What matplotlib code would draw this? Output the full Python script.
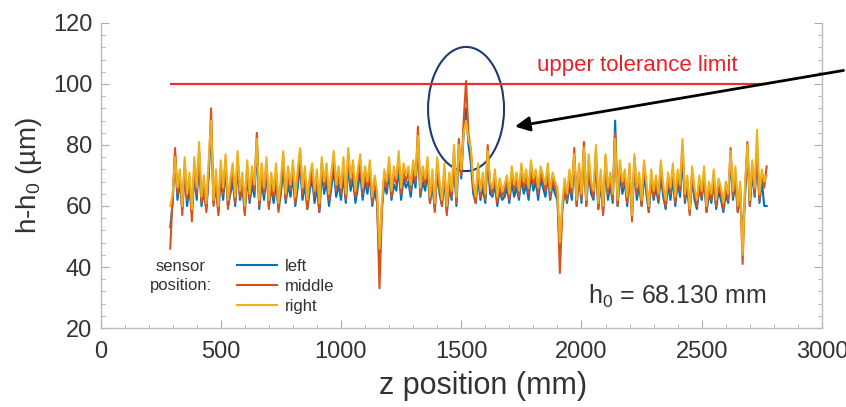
import numpy as np
import matplotlib.pyplot as plt
from matplotlib.patches import Ellipse

plt.rcParams['font.family'] = ['Liberation Sans', 'DejaVu Sans']
plt.rcParams['mathtext.default'] = 'regular'

# z positions (mm), 10 mm steps
z = np.arange(290, 2771, 10)

# sensor readings h-h0 (um), one row per 100 mm
left = [53, 61, 77, 62, 68, 59, 71, 60, 66, 58,
        70, 62, 75, 60, 65, 59, 70, 86, 61, 66,
        58, 69, 62, 72, 60, 64, 68, 60, 73, 62,
        66, 58, 70, 61, 67, 63, 80, 59, 68, 62,
        71, 60, 66, 61, 68, 59, 64, 73, 61, 67,
        63, 70, 60, 66, 74, 62, 67, 59, 65, 69,
        61, 66, 58, 71, 64, 68, 60, 66, 72, 63,
        67, 62, 70, 61, 73, 65, 69, 61, 66, 71,
        62, 68, 64, 70, 60, 65, 61, 40, 60, 67,
        64, 71, 62, 67, 65, 72, 62, 69, 66, 68,
        63, 70, 66, 80, 63, 68, 65, 71, 61, 67,
        59, 71, 64, 60, 69, 58, 66, 62, 75, 60,
        78, 69, 84, 92, 80, 74, 64, 61, 69, 62,
        66, 61, 76, 64, 63, 67, 60, 65, 62, 63,
        66, 61, 68, 63, 66, 62, 69, 64, 67, 62,
        70, 65, 68, 62, 69, 66, 63, 70, 62, 67,
        64, 62, 45, 59, 65, 61, 67, 62, 76, 60,
        70, 61, 78, 60, 72, 64, 62, 75, 59, 68,
        58, 73, 62, 67, 61, 88, 60, 70, 64, 68,
        60, 70, 57, 73, 62, 67, 60, 70, 64, 58,
        68, 62, 66, 61, 70, 63, 59, 67, 62, 69,
        60, 68, 63, 76, 61, 66, 58, 69, 62, 59,
        66, 62, 69, 58, 64, 61, 68, 59, 65, 62,
        58, 64, 61, 76, 62, 68, 58, 64, 50, 63,
        78, 60, 71, 63, 76, 61, 68, 60, 60]
middle = [46, 63, 79, 64, 70, 57, 74, 62, 68, 55,
          73, 64, 78, 61, 67, 58, 72, 92, 60, 69,
          57, 72, 64, 75, 59, 66, 71, 61, 76, 63,
          68, 57, 73, 62, 70, 65, 84, 60, 71, 64,
          74, 59, 68, 63, 71, 58, 66, 76, 62, 70,
          65, 73, 61, 69, 78, 64, 70, 59, 67, 72,
          63, 69, 58, 74, 66, 71, 62, 68, 76, 65,
          70, 64, 73, 62, 77, 67, 72, 63, 69, 75,
          64, 71, 66, 73, 61, 68, 63, 33, 58, 70,
          66, 74, 63, 70, 67, 76, 64, 72, 68, 71,
          65, 73, 68, 86, 64, 71, 67, 74, 61, 70,
          58, 74, 66, 60, 72, 57, 69, 63, 78, 61,
          82, 70, 88, 101, 84, 78, 66, 61, 72, 63,
          69, 62, 80, 66, 64, 70, 61, 67, 63, 65,
          68, 62, 71, 65, 69, 63, 72, 66, 70, 64,
          73, 67, 70, 64, 71, 68, 65, 72, 63, 69,
          66, 64, 38, 58, 67, 62, 70, 64, 79, 60,
          72, 62, 81, 60, 75, 66, 63, 78, 59, 70,
          57, 76, 64, 69, 62, 84, 60, 73, 66, 70,
          61, 72, 55, 76, 64, 69, 60, 73, 66, 58,
          70, 63, 68, 62, 73, 65, 60, 69, 64, 72,
          61, 70, 65, 80, 62, 68, 57, 71, 64, 60,
          68, 63, 71, 58, 66, 62, 70, 60, 67, 64,
          59, 66, 62, 79, 63, 71, 58, 66, 41, 65,
          81, 60, 73, 64, 78, 62, 70, 66, 73]
right = [60, 64, 76, 66, 72, 60, 76, 64, 71, 59,
         76, 66, 81, 63, 70, 61, 75, 88, 62, 72,
         60, 75, 66, 77, 62, 69, 74, 63, 78, 65,
         71, 60, 75, 64, 73, 67, 82, 62, 74, 66,
         76, 62, 71, 65, 74, 61, 69, 78, 64, 73,
         67, 75, 63, 72, 79, 66, 73, 62, 70, 74,
         65, 72, 61, 76, 68, 74, 64, 71, 78, 67,
         73, 66, 76, 64, 79, 69, 75, 65, 72, 77,
         66, 73, 68, 75, 63, 70, 65, 46, 61, 72,
         68, 76, 65, 73, 69, 78, 66, 74, 70, 73,
         67, 75, 70, 83, 66, 73, 69, 76, 63, 72,
         61, 76, 68, 62, 74, 60, 71, 65, 80, 63,
         80, 72, 84, 88, 82, 79, 68, 63, 74, 65,
         71, 64, 78, 68, 66, 72, 63, 69, 65, 67,
         70, 64, 73, 67, 71, 65, 74, 68, 72, 66,
         75, 69, 72, 66, 73, 70, 67, 74, 65, 71,
         68, 66, 48, 61, 69, 64, 72, 66, 77, 62,
         74, 64, 79, 62, 77, 68, 65, 80, 61, 72,
         60, 77, 66, 71, 64, 82, 62, 75, 68, 72,
         63, 74, 57, 77, 66, 71, 62, 75, 68, 60,
         72, 65, 70, 64, 75, 67, 62, 71, 66, 74,
         63, 72, 67, 82, 64, 70, 59, 73, 66, 62,
         70, 65, 73, 60, 68, 64, 72, 62, 69, 66,
         61, 68, 64, 78, 65, 73, 60, 68, 44, 67,
         80, 62, 75, 66, 85, 64, 72, 68, 70]

limit = 100
h0_text = 'h$_0$ = 68.130 mm'

fig = plt.figure(figsize=(8.46, 4.07), dpi=100)
ax = fig.add_axes([0.1188, 0.1941, 0.8528, 0.7494])

l1, = ax.plot(z, left, color='#0072BD', lw=1.5, label='left')
l2, = ax.plot(z, middle, color='#D95319', lw=1.5, label='middle')
l3, = ax.plot(z, right, color='#EDB120', lw=1.5, label='right')

ax.hlines(limit, z[0], z[-1], color='#E8303A', lw=1.6)
ax.text(2232, 106, 'upper tolerance limit', color='#E8202A', fontsize=16,
        ha='center', va='center')

ax.add_patch(Ellipse((1520, 91.8), 316, 40.7, fill=False, edgecolor='#1C3C6E', lw=1.5))
ax.annotate('', xy=(1712, 85.9), xytext=(3101, 104.6), annotation_clip=False,
            arrowprops=dict(arrowstyle='-|>', color='black', lw=2, mutation_scale=22))

ax.text(2399, 30.2, h0_text, fontsize=18, color='#333333', ha='center', va='center')

ax.text(335, 37.0, 'sensor\nposition:', fontsize=12, color='#333333', ha='center',
        va='center', linespacing=1.35)
ax.legend(handles=[l1, l2, l3], loc='upper left', bbox_to_anchor=(0.189, 0.226),
          frameon=False, fontsize=12, handlelength=2.4, handletextpad=0.5,
          labelspacing=0.3, borderpad=0, borderaxespad=0, labelcolor='#333333')

ax.set_xlim(0, 3000)
ax.set_ylim(20, 120)
ax.set_xticks(range(0, 3001, 500))
ax.set_yticks(range(20, 121, 20))
ax.set_xticks(range(0, 3001, 100), minor=True)
ax.set_yticks(range(20, 121, 4), minor=True)

for s in ['left', 'right', 'bottom']:
    ax.spines[s].set_color('#BBBBBB')
    ax.spines[s].set_linewidth(1)
ax.spines['top'].set_visible(False)

ax.tick_params(which='both', direction='in', color='#AAAAAA', right=True,
               labelcolor='#333333', labelsize=17)
ax.tick_params(which='major', length=6)
ax.tick_params(which='minor', length=3)
ax.tick_params(axis='x', pad=9)
ax.tick_params(axis='y', pad=6)

ax.set_xlabel('z position (mm)', fontsize=22, color='#333333')
ax.xaxis.set_label_coords(0.530, -0.14)
ax.set_ylabel('h-h$_0$ (µm)', fontsize=20, color='#333333', labelpad=6)

fig.savefig('out.png', dpi=100)
